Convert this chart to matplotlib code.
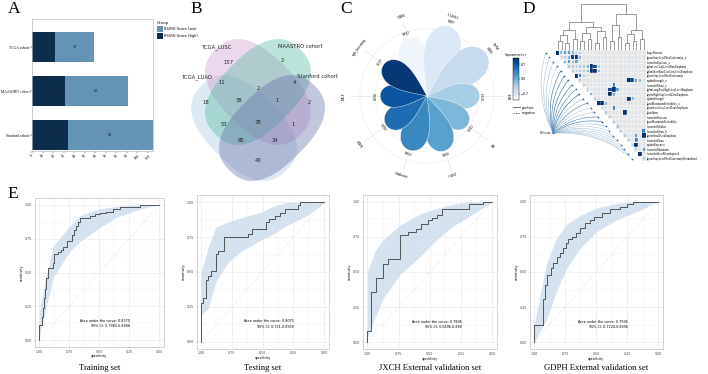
import numpy as np
import matplotlib
matplotlib.use('Agg')
import matplotlib.pyplot as plt
from matplotlib.patches import Polygon, Rectangle
from matplotlib.lines import Line2D
from matplotlib.colors import Normalize
from matplotlib.cm import ScalarMappable

# ---------------- data ----------------
# A: risk groups per cohort
cohorts = ["TCGA cohort", "MAASTRO cohort", "Stanford cohort"]
rs_high = [22, 31, 34]
rs_low = [37, 60, 81]

# B: venn
venn_sets = ["TCGA_LUAD", "TCGA_LUSC", "MAASTRO cohort", "Stanford cohort"]
venn_counts = [157, 2, 11, 2, 4, 18, 38, 1, 2, 53, 78, 1, 85, 34, 40]

# C: model AUC petals (counter-clockwise from upper left)
petal_models = ["xgb_boosting", "MLP", "KNN", "Adaboost", "CART",
                "RF", "RSF", "SVM", "LASSO", "GBM"]
petal_auc = [0.797, 0.766, 0.782, 0.813, 0.816, 0.781, 0.793, 0.886, 0.887, 0.832]

# D: features, correlation rows (upper triangle, '.' = weak), RS-score links
features = ["shapeFlatness", "glszmGrayLevelNonUniformity_a", "firstorderKurtosis_a",
            "glrlmLowGrayLevelRunEmphasis", "glrlmShortRunLowGrayLevelEmphasis",
            "glszmGrayLevelNonUniformity", "ngtdmStrength_a", "firstorderMean_a",
            "glrlmLongRunHighGrayLevelEmphasis", "glszmHighGrayLevelZoneEmphasis",
            "ngtdmStrength", "glcmMaximumProbability_a", "glszmLowGrayLevelZoneEmphasis",
            "glcmIdmn", "firstorderKurtosis", "glcmMaximumProbability", "firstorderMedian",
            "firstorderMean_b", "glszmSmallAreaEmphasis", "firstorderMean", "ngtdmBusyness",
            "firstorderMinimum", "firstorderRootMeanSquared",
            "glszmGrayLevelNonUniformityNormalized"]
corr_rows = ["9455433.................",
             "334894.................",
             "4545..................",
             "333334983............",
             "33334994............",
             "963................",
             "3............9854.",
             "3.......6........",
             "3.....895.......",
             "4....95........",
             "3........94...",
             "994..........",
             "3..6........",
             "3....9.....",
             "3.........",
             "3........",
             "4.......",
             "3.....6",
             "3..5.9",
             "3.6..",
             "39..",
             "3.5",
             "9.",
             "3"]
rs_r = [-0.21, -0.18, -0.25, -0.16, 0.32, 0.28, 0.35, 0.30, 0.26, 0.41, -0.22, 0.29,
        -0.15, -0.19, 0.24, 0.31, -0.17, -0.20, -0.23, -0.14, -0.18, -0.12, -0.16, -0.20]
link_left = [0, 2, 24, 4, 26, 6, 8, 29, 10, 12, 32, 31, 28,
             14, 16, 37, 18, 20, 40, 22, 42, 39, 36]
link_right = [1, 3, 25, 5, 27, 7, 9, 30, 11, 13, 33, 34, 35,
              15, 17, 38, 19, 21, 41, 23, 43, 44, 45]
link_height = [0.20, 0.15, 0.33, 0.25, 0.45, 0.20, 0.25, 0.38, 0.15, 0.30, 0.42, 0.50, 0.62,
               0.20, 0.30, 0.55, 0.15, 0.20, 0.35, 0.25, 0.45, 0.80, 1.00]

# E: ROC curves (specificity, sensitivity) and 95% CI bands
train_spec = [1.00, 1.00, 0.98, 0.97, 0.96, 0.95, 0.94, 0.925, 0.90, 0.885, 0.88, 0.84, 0.815,
              0.80, 0.77, 0.74, 0.73, 0.71, 0.695, 0.675, 0.66, 0.61, 0.58, 0.535, 0.495,
              0.44, 0.385, 0.33, 0.27, 0.16, 0.00]
train_sens = [0.00, 0.11, 0.17, 0.24, 0.31, 0.38, 0.46, 0.53, 0.53, 0.57, 0.64, 0.655, 0.665,
              0.69, 0.73, 0.73, 0.78, 0.815, 0.84, 0.875, 0.905, 0.905, 0.92, 0.93, 0.94,
              0.95, 0.97, 0.98, 0.985, 0.995, 1.00]
train_band_spec = [1.00, 0.95, 0.88, 0.75, 0.66, 0.50, 0.35, 0.15, 0.00]
train_upper = [0.19, 0.45, 0.70, 0.84, 0.92, 0.97, 0.99, 1.00, 1.00]
train_lower = [0.02, 0.22, 0.47, 0.65, 0.73, 0.83, 0.91, 0.97, 1.00]

test_spec = [1.00, 1.00, 0.98, 0.96, 0.94, 0.92, 0.88, 0.86, 0.81, 0.62, 0.59, 0.476, 0.449,
             0.40, 0.359, 0.319, 0.211, 0.197, 0.00]
test_sens = [0.00, 0.28, 0.31, 0.44, 0.47, 0.51, 0.63, 0.65, 0.75, 0.77, 0.81, 0.86, 0.88,
             0.90, 0.92, 0.95, 0.98, 1.00, 1.00]
test_band_spec = [1.00, 0.94, 0.88, 0.78, 0.67, 0.51, 0.40, 0.29, 0.13, 0.00]
test_upper = [0.50, 0.68, 0.82, 0.86, 0.89, 0.93, 0.976, 1.00, 1.00, 1.00]
test_lower = [0.19, 0.24, 0.43, 0.57, 0.65, 0.73, 0.78, 0.84, 0.91, 1.00]

jxch_spec = [1.00, 1.00, 0.971, 0.933, 0.872, 0.837, 0.739, 0.677, 0.613, 0.573, 0.512,
             0.48, 0.445, 0.40, 0.352, 0.187, 0.072, 0.00]
jxch_sens = [0.00, 0.08, 0.355, 0.46, 0.56, 0.592, 0.763, 0.787, 0.806, 0.839, 0.87,
             0.886, 0.905, 0.945, 0.95, 0.981, 1.00, 1.00]
jxch_band_spec = [1.00, 0.94, 0.885, 0.86, 0.74, 0.565, 0.432, 0.30, 0.165, 0.00]
jxch_upper = [0.50, 0.645, 0.72, 0.74, 0.834, 0.917, 0.955, 0.985, 0.998, 1.00]
jxch_lower = [0.03, 0.17, 0.29, 0.33, 0.48, 0.62, 0.74, 0.834, 0.905, 1.00]

gdph_spec = [1.00, 1.00, 0.925, 0.912, 0.893, 0.866, 0.845, 0.818, 0.791, 0.764, 0.743,
             0.724, 0.697, 0.662, 0.63, 0.59, 0.55, 0.517, 0.456, 0.389, 0.308, 0.255,
             0.206, 0.196, 0.00]
gdph_sens = [0.00, 0.123, 0.308, 0.408, 0.479, 0.526, 0.562, 0.609, 0.633, 0.668, 0.704,
             0.735, 0.751, 0.775, 0.81, 0.846, 0.87, 0.893, 0.917, 0.948, 0.964, 0.981,
             0.995, 1.00, 1.00]
gdph_band_spec = [1.00, 0.90, 0.82, 0.737, 0.63, 0.496, 0.335, 0.174, 0.00]
gdph_upper = [0.12, 0.56, 0.74, 0.84, 0.90, 0.957, 0.988, 1.00, 1.00]
gdph_lower = [0.00, 0.16, 0.36, 0.526, 0.668, 0.787, 0.87, 0.929, 1.00]

roc_titles = ["Training set", "Testing set", "JXCH External validation set",
              "GDPH External validation set"]
roc_auc = ["0.8370", "0.8075", "0.7806", "0.7995"]
roc_ci = ["0.7983-0.8886", "0.721-0.8939", "0.6496-0.884", "0.7224-0.8806"]

# ---------------- figure ----------------
W, H = 708, 374
fig = plt.figure(figsize=(W / 100, H / 100), dpi=100)
SERIF = 'Liberation Serif'


def box(x0, y0, x1, y1):
    return [x0 / W, 1 - y1 / H, (x1 - x0) / W, (y1 - y0) / H]


for letter, (lx, ly) in zip("ABCDE", [(14, 9), (196, 9), (346, 9), (529, 9), (13, 194)]):
    fig.text(lx / W, 1 - ly / H, letter, fontsize=12.5, family=SERIF, ha='center', va='center')

# ---- A: stacked bars ----
ax = fig.add_axes(box(32, 19, 153, 151))
ypos = np.arange(len(cohorts))[::-1]
b_high = ax.barh(ypos, rs_high, height=0.68, color='#0c2e4c', label='RS(RH Score High)')
b_low = ax.barh(ypos, rs_low, left=rs_high, height=0.68, color='#6394b6', label='RS(RH Score Low)')
for y, h, l in zip(ypos, rs_high, rs_low):
    ax.text(h / 2, y, str(h), fontsize=2.4, ha='center', va='center', color='#222222')
    ax.text(h + l / 2, y, str(l), fontsize=2.4, ha='center', va='center', color='#222222')
ax.set_xlim(0, 115)
ax.set_ylim(-0.36, 2.64)
ax.set_yticks(ypos)
ax.set_yticklabels(cohorts, fontsize=2.7, family=SERIF)
ax.set_xticks(np.arange(0, 111, 10))
ax.set_xticklabels([str(v) for v in range(0, 111, 10)], fontsize=2.8, family=SERIF, rotation=45)
ax.tick_params(length=1.2, width=0.3, pad=0.6)
for s in ax.spines.values():
    s.set_color('#bbbbbb')
    s.set_linewidth(0.5)
ax.legend(handles=[b_low, b_high], title='Group', loc='upper left', bbox_to_anchor=(1.02, 1.0),
          fontsize=2.6, title_fontsize=2.8, frameon=False, handlelength=1.6, handleheight=2.2,
          borderpad=0, labelspacing=0.3, handletextpad=0.4, alignment='left')

# ---- B: venn (rounded ellipses) ----
ax = fig.add_axes(box(178, 25, 340, 187))
ax.set_xlim(178, 340)
ax.set_ylim(187, 25)
ax.axis('off')
venn_shapes = [((244, 128), 45, '#a6c6de'), ((258, 92), 45, '#cc94cc'),
               ((258, 92), -45, '#45b49a'), ((272, 128), -45, '#5a66a2')]
t = np.linspace(0, 2 * np.pi, 200)
ex = 60 * np.sign(np.cos(t)) * np.abs(np.cos(t)) ** 0.8
ey = 37 * np.sign(np.sin(t)) * np.abs(np.sin(t)) ** 0.8
for (cxy, ang, col) in venn_shapes:
    a = np.deg2rad(ang)
    px = cxy[0] + ex * np.cos(a) - ey * np.sin(a)
    py = cxy[1] + ex * np.sin(a) + ey * np.cos(a)
    ax.add_patch(Polygon(np.column_stack([px, py]), closed=True, fc=col, ec='none', alpha=0.36))
venn_xy = [(228, 62), (282, 61), (222, 83), (258, 88), (294, 83), (206, 103), (239, 100),
           (277, 100), (309, 103), (224, 125), (258, 122), (293, 125), (241, 140), (275, 140),
           (258, 160)]
for n, (x, y) in zip(venn_counts, venn_xy):
    ax.text(x, y, str(n), fontsize=3.8, ha='center', va='center', color='#222222')
for name, (x, y) in zip(venn_sets, [(197, 77), (217, 47), (300, 47), (318, 77)]):
    ax.text(x, y, name, fontsize=3.8, ha='center', va='center', color='#222222')

# ---- C: petal chart ----
R0, R1 = 0.55, 0.942
ax = fig.add_axes(box(342, 11, 512, 181), projection='polar')
ax.set_ylim(R0, R1)
ax.set_xticks([])
ax.set_yticks([])
ax.grid(False)
ax.spines['polar'].set_visible(False)
ax.patch.set_alpha(0)
circ = np.linspace(0, 2 * np.pi, 300)
for rg in [0.65, 0.72, 0.79, 0.86]:
    ax.plot(circ, np.full_like(circ, rg), color='#eeeeee', lw=0.5, zorder=0)
angles = np.deg2rad(144 + 36 * np.arange(len(petal_models)))
colors = plt.cm.Blues(np.linspace(0.97, 0.04, len(petal_models)))
for th in angles:
    ax.plot([th, th], [R0, 0.905], color='#e4e4e4', lw=0.5, zorder=0)
half = np.deg2rad(25)
phi = np.linspace(-half, half, 120)
for i in range(len(petal_models))[::-1]:
    th, v = angles[i], petal_auc[i]
    r = R0 + (v - R0) * np.clip(1 - (phi / half) ** 2, 0, 1) ** 0.35
    ax.fill(th + phi, r, color=colors[i], ec='white', lw=0.3, zorder=2)
for i, (th, v, name) in enumerate(zip(angles, petal_auc, petal_models)):
    rot = (np.rad2deg(th) - 90) % 180
    if rot > 90:
        rot -= 180
    ax.text(th, v + 0.02, f"{v:.3f}", fontsize=2.6, rotation=rot, ha='center', va='center',
            family=SERIF, zorder=3)
    ax.text(th, 0.935, name, fontsize=2.8, rotation=rot, ha='center', va='center',
            family=SERIF, zorder=3)

# ---- D: correlation heatmap with dendrogram ----
cmap = plt.cm.Blues
axd = fig.add_axes(box(556, 3, 645.6, 50.4))
xs = list(range(len(features)))
hs = [0.0] * len(features)
for l, r, h in zip(link_left, link_right, link_height):
    axd.plot([xs[l], xs[l], xs[r], xs[r]], [hs[l], h, h, hs[r]], color='#8a8a8a', lw=0.6)
    xs.append((xs[l] + xs[r]) / 2)
    hs.append(h)
axd.set_xlim(-0.5, len(features) - 0.5)
axd.set_ylim(0, 1.03)
axd.axis('off')

axh = fig.add_axes(box(533.4, 50.4, 645.6, 160.8))
n = len(features)
for r, row in enumerate(corr_rows):
    for k, ch in enumerate(row):
        c = r + k
        v = 0.15 if ch == '.' else int(ch) / 9
        axh.add_patch(Rectangle((c - 0.5, r - 0.5), 1, 1, fc='#e2e2e2', ec='white', lw=0.3))
        side = 0.2 + 0.75 * v
        axh.add_patch(Rectangle((c - side / 2, r - side / 2), side, side, fc=cmap(v), ec='none'))
rs_pt = (-1.2, 17.5)
for r, val in enumerate(rs_r):
    end = (r - 3.2, r)
    axh.annotate('', xy=end, xytext=rs_pt,
                 arrowprops=dict(arrowstyle='-', connectionstyle='arc3,rad=-0.2',
                                 ls='-' if val > 0 else (0, (2, 1.5)),
                                 lw=0.2 + abs(val) * 0.9,
                                 color='#4f86b3' if val > 0 else '#7ea6c8',
                                 shrinkA=0, shrinkB=0))
    axh.scatter(*end, s=1.6, color='#2e6598', zorder=5, lw=0)
axh.scatter(*rs_pt, s=1.6, color='#2e6598', zorder=5, lw=0)
axh.text(rs_pt[0] - 0.6, rs_pt[1], 'RS score', fontsize=2.2, ha='right', va='center',
         family=SERIF)
axh.set_xlim(-6.5, n - 0.5)
axh.set_ylim(n - 0.5, -0.5)
axh.set_xticks([])
axh.set_yticks(range(n))
axh.set_yticklabels(features, fontsize=2.1, family=SERIF)
axh.yaxis.tick_right()
axh.tick_params(length=0, pad=1)
for s in axh.spines.values():
    s.set_visible(False)

cax = fig.add_axes(box(513, 58, 519, 100))
cb = fig.colorbar(ScalarMappable(norm=Normalize(-1, 1), cmap=cmap), cax=cax, ticks=[-0.7, 0, 0.7])
cb.ax.tick_params(labelsize=2.3, length=1, width=0.3, pad=0.5)
cb.outline.set_linewidth(0.3)
cax.set_title("Spearman's r", fontsize=2.3, pad=1.5)
fig.legend(handles=[Line2D([], [], color='#333333', lw=0.5),
                    Line2D([], [], color='#333333', lw=0.5, ls=(0, (2, 1.5)))],
           labels=['positive', 'negative'], loc='upper left',
           bbox_to_anchor=(511 / W, 1 - 104 / H), fontsize=2.3, frameon=False,
           handlelength=2.4, borderpad=0, labelspacing=0.4, handletextpad=0.4)

# ---- E: ROC curves ----
roc_boxes = [(35, 198, 163.5, 347), (196.7, 195.3, 328.6, 348.6),
             (363, 194.6, 496.7, 349.3), (529.7, 194.6, 662.7, 349.3)]
roc_data = [(train_spec, train_sens, train_band_spec, train_upper, train_lower),
            (test_spec, test_sens, test_band_spec, test_upper, test_lower),
            (jxch_spec, jxch_sens, jxch_band_spec, jxch_upper, jxch_lower),
            (gdph_spec, gdph_sens, gdph_band_spec, gdph_upper, gdph_lower)]
ticks = [0.0, 0.25, 0.5, 0.75, 1.0]
for bx, (sp, se, bsp, up, lo), title, auc, ci in zip(roc_boxes, roc_data, roc_titles,
                                                      roc_auc, roc_ci):
    ax = fig.add_axes(box(*bx))
    ax.fill_between(bsp, lo, up, color='#c8d9ea', alpha=0.75, lw=0, zorder=1)
    ax.plot([1, 0], [0, 1], color='#d8d8d8', lw=0.5, ls=':', zorder=1)
    ax.step(sp, se, where='post', color='#3c3c3c', lw=0.6, zorder=2)
    ax.set_xlim(1.035, -0.035)
    ax.set_ylim(-0.05, 1.05)
    ax.set_xticks(ticks)
    ax.set_yticks(ticks)
    ax.set_xticklabels([f"{t:.2f}" for t in ticks], fontsize=2.3, color='#444444')
    ax.set_yticklabels([f"{t:.2f}" for t in ticks], fontsize=2.3, color='#444444')
    ax.set_xticks([0.125, 0.375, 0.625, 0.875], minor=True)
    ax.set_yticks([0.125, 0.375, 0.625, 0.875], minor=True)
    ax.grid(True, which='major', color='#e8e8e8', lw=0.45)
    ax.grid(True, which='minor', color='#f2f2f2', lw=0.35)
    ax.set_axisbelow(True)
    ax.tick_params(which='both', length=1, width=0.3, pad=1, color='#aaaaaa')
    ax.tick_params(which='minor', length=0)
    ax.set_xlabel('specificity', fontsize=2.3, labelpad=0.5)
    ax.set_ylabel('sensitivity', fontsize=2.3, labelpad=0.5)
    for s in ax.spines.values():
        s.set_color('#cccccc')
        s.set_linewidth(0.6)
    ax.text(0.245, 0.145, f"Area under the curve: {auc}", fontsize=2.4, ha='right', va='center')
    ax.text(0.245, 0.108, f"95% CI: {ci}", fontsize=2.4, ha='right', va='center')
    cx = (bx[0] + bx[2]) / 2
    fig.text(cx / W, 1 - 368 / H, title, fontsize=6.2, family=SERIF, ha='center', va='center')

fig.savefig('out.png', dpi=100)
